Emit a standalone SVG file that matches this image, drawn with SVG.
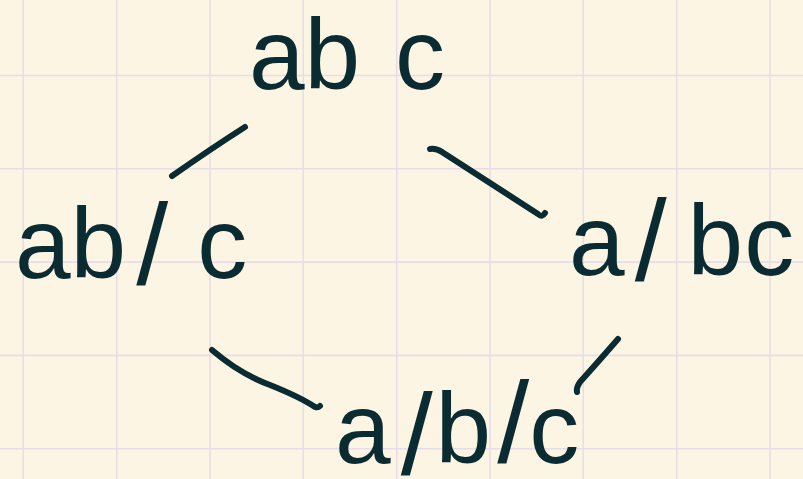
<svg xmlns="http://www.w3.org/2000/svg" width="803" height="479" viewBox="0 0 803 479">
<style>
.grid line{stroke:#e6dde8;stroke-width:1.6}
.ink{fill:#0b2b33;font-family:"Liberation Sans",Arial,sans-serif;font-size:100px}
.sl{font-size:115px}
.conn path{fill:none;stroke:#0b2b33;stroke-width:6;stroke-linecap:round;stroke-linejoin:round}
</style>
<rect width="803" height="479" fill="#fdf5e3"/>
<g class="grid">
<line x1="23.3" y1="0" x2="23.3" y2="479"/>
<line x1="116.7" y1="0" x2="116.7" y2="479"/>
<line x1="210" y1="0" x2="210" y2="479"/>
<line x1="303.3" y1="0" x2="303.3" y2="479"/>
<line x1="396.7" y1="0" x2="396.7" y2="479"/>
<line x1="490" y1="0" x2="490" y2="479"/>
<line x1="583.3" y1="0" x2="583.3" y2="479"/>
<line x1="676.7" y1="0" x2="676.7" y2="479"/>
<line x1="770" y1="0" x2="770" y2="479"/>
<line x1="0" y1="75.5" x2="803" y2="75.5"/>
<line x1="0" y1="168.8" x2="803" y2="168.8"/>
<line x1="0" y1="262.1" x2="803" y2="262.1"/>
<line x1="0" y1="355.4" x2="803" y2="355.4"/>
<line x1="0" y1="448.7" x2="803" y2="448.7"/>
</g>
<g class="conn">
<path d="M245,127 Q212,148 172,176"/>
<path d="M430,149 Q436,148 442,152 L538,214 Q542,218 545,213"/>
<path d="M212,350 Q240,374 270,385 Q300,397 315,407 Q318,408 320,406"/>
<path d="M618,339 Q598,362 580,382 Q576,388 577,392"/>
</g>
<g id="n-abc"><text class="ink" x="249" y="89" word-spacing="7">ab c</text></g>
<g id="n-ab-c"><text class="ink" x="15" y="278">ab<tspan class="sl" dx="10" dy="6">/</tspan><tspan dx="29" dy="-6">c</tspan></text></g>
<g id="n-a-bc"><text class="ink" x="569" y="275">a<tspan class="sl" dx="10" dy="5">/</tspan><tspan dx="21" dy="-5">b</tspan><tspan dx="1">c</tspan></text></g>
<g id="n-a-b-c"><text class="ink" x="335" y="463">a<tspan class="sl" dx="10" dy="11">/</tspan><tspan dx="3" dy="-11">b</tspan><tspan class="sl" dx="6" dy="-1">/</tspan><tspan dy="1">c</tspan></text></g>
</svg>
